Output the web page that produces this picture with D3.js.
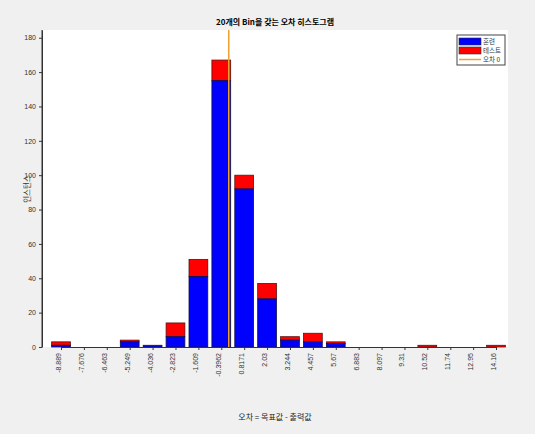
<!DOCTYPE html><html><head><meta charset="utf-8"><script src="https://cdn.jsdelivr.net/npm/d3@7"></script>
<style>body{margin:0;background:#f0f0f0}svg{font-family:"Noto Sans CJK KR","Noto Sans",sans-serif}</style></head><body><svg width="535" height="434"></svg><script>
const binLabels=["-8.889","-7.676","-6.463","-5.249","-4.036","-2.823","-1.609","-0.3962","0.8171","2.03","3.244","4.457","5.67","6.883","8.097","9.31","10.52","11.74","12.95","14.16"];
const trainCounts=[1,0,0,3,1,6,41,155,92,28,4,3,2,0,0,0,0,0,0,0];
const testCounts=[2,0,0,1,0,8,10,12,8,9,2,5,1,0,0,0,1,0,0,1];
const yTicks=[0,20,40,60,80,100,120,140,160,180];
const svg=d3.select("svg");
const L=42,R=508,T=30,B=347;
const x=d3.scaleLinear().domain([-8.889,14.16]).range([61,496]);
const y=d3.scaleLinear().domain([0,184.5]).range([B,T]);
const bw=(x(14.16)-x(-8.889))/19*0.82;
svg.append("rect").attr("x",L).attr("y",T).attr("width",R-L).attr("height",B-T).attr("fill","#fff");
const g=svg.append("g");
binLabels.forEach((l,i)=>{const c=x(+l),tr=trainCounts[i],tot=tr+testCounts[i];
 if(tot-tr>0)g.append("rect").attr("x",c-bw/2).attr("width",bw).attr("y",y(tot)).attr("height",y(tr)-y(tot)).attr("fill","#ff0000").attr("stroke","#5a1010").attr("stroke-width",0.8);
 if(tr>0)g.append("rect").attr("x",c-bw/2).attr("width",bw).attr("y",y(tr)).attr("height",y(0)-y(tr)).attr("fill","#0000ff").attr("stroke","#10104a").attr("stroke-width",0.8);
});
svg.append("line").attr("x1",x(0)).attr("x2",x(0)).attr("y1",T-30).attr("y2",B).attr("stroke","#f0a030").attr("stroke-width",1.5);
svg.append("rect").attr("x",0).attr("y",0).attr("width",535).attr("height",T).attr("fill","#f0f0f0");
const ya=svg.append("g").attr("transform",`translate(${L},0)`).call(d3.axisLeft(y).tickValues(yTicks).tickSize(3).tickSizeOuter(0));
ya.selectAll("text").attr("font-size",7).attr("fill","#333");
const xa=svg.append("g").attr("transform",`translate(0,${B})`).call(d3.axisBottom(x).tickValues(binLabels.map(Number)).tickFormat((d,i)=>binLabels[i]).tickSize(3).tickSizeOuter(0));
xa.selectAll("text").attr("font-size",7).attr("fill","#333").attr("transform","rotate(-90)").attr("text-anchor","end").attr("x",-6).attr("y",-3).attr("dy","0.35em");
[ya,xa].forEach(a=>{a.select(".domain").attr("stroke","#333");a.selectAll(".tick line").attr("stroke","#333");});
svg.append("line").attr("x1",L).attr("x2",L).attr("y1",T).attr("y2",B).attr("stroke","#333");
svg.append("text").attr("x",275).attr("y",25).attr("text-anchor","middle").attr("font-size",8).attr("font-weight","bold").text("20개의 Bin을 갖는 오차 히스토그램");
svg.append("text").attr("transform","translate(30,189) rotate(-90)").attr("text-anchor","middle").attr("font-size",7.5).attr("fill","#333").text("인스턴스");
svg.append("text").attr("x",275).attr("y",420).attr("text-anchor","middle").attr("font-size",8).attr("fill","#222").text("오차 = 목표값 - 출력값");
const lg=svg.append("g").attr("transform","translate(457,35)");
lg.append("rect").attr("width",48).attr("height",30).attr("fill","#fff").attr("stroke","#444");
const items=[["훈련","#0000ff"],["테스트","#ff0000"],["오차 0",null]];
items.forEach((it,i)=>{const yy=3+i*9;
 if(it[1])lg.append("rect").attr("x",2).attr("y",yy).attr("width",22).attr("height",7).attr("fill",it[1]).attr("stroke","#333").attr("stroke-width",0.6);
 else lg.append("line").attr("x1",2).attr("x2",24).attr("y1",yy+3.5).attr("y2",yy+3.5).attr("stroke","#f0a030").attr("stroke-width",1.5);
 lg.append("text").attr("x",26).attr("y",yy+6).attr("font-size",6.5).attr("fill","#333").text(it[0]);});
</script></body></html>
